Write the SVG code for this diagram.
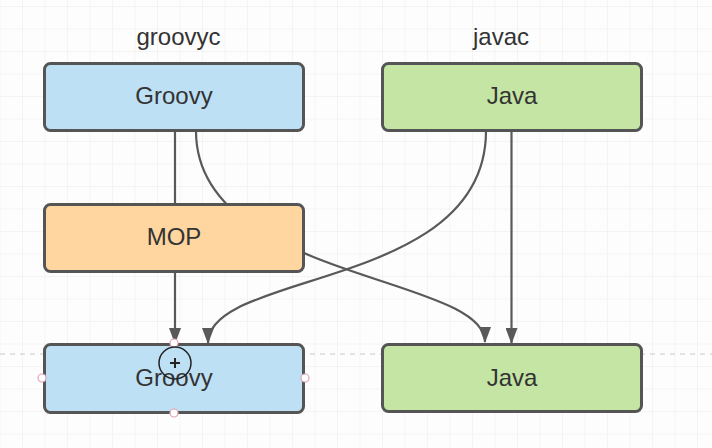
<svg xmlns="http://www.w3.org/2000/svg" width="712" height="448" viewBox="0 0 712 448">
<defs>
<pattern id="grid" x="0.5" y="7" width="22.5" height="22.5" patternUnits="userSpaceOnUse">
<path d="M22.5 0V22.5M0 22.5H22.5" fill="none" stroke="#ececec" stroke-width="1"/>
</pattern>
<marker id="arr" viewBox="0 0 16 12" refX="15" refY="6" markerWidth="16" markerHeight="12" markerUnits="userSpaceOnUse" orient="auto">
<path d="M0 0L16 6L0 12Z" fill="#595959"/>
</marker>
<style>
.node rect{stroke:#555;stroke-width:3}
.lbl{font-family:"Liberation Sans",Arial,sans-serif;font-size:24px;fill:#333;text-anchor:middle}
.blue{fill:#bee0f5}
.green{fill:#c4e5a4}
.orange{fill:#ffd69f}
.conn path{fill:none;stroke:#595959;stroke-width:2.2}
.handle{fill:#fff;stroke:#e2a2b2;stroke-width:1.2}
</style>
</defs>
<rect width="712" height="448" fill="#fdfdfd"/>
<rect width="712" height="448" fill="url(#grid)"/>
<line x1="0" y1="354" x2="712" y2="354" stroke="#c8c8c8" stroke-width="1" stroke-dasharray="5 5"/>
<text class="lbl" x="178.5" y="45">groovyc</text>
<text class="lbl" x="501" y="45">javac</text>
<g class="conn" id="connectors">
<path d="M196 131C196 280 485 275 485 342" marker-end="url(#arr)"/>
<path d="M175 131V204"/>
<path d="M175 272V343" marker-end="url(#arr)"/>
<path d="M486 131C486 290 208 270 208 343" marker-end="url(#arr)"/>
<path d="M511.5 131V343" marker-end="url(#arr)"/>
</g>
<g class="node" id="groovy-top"><rect class="blue" x="44.5" y="63.5" width="259" height="67" rx="6"/><text class="lbl" x="174" y="104">Groovy</text></g>
<g class="node" id="java-top"><rect class="green" x="382.5" y="63.5" width="259" height="67" rx="6"/><text class="lbl" x="512" y="104">Java</text></g>
<g class="node" id="mop"><rect class="orange" x="44.5" y="204.5" width="259" height="67" rx="6"/><text class="lbl" x="174" y="245">MOP</text></g>
<g class="node" id="groovy-bottom"><rect class="blue" x="44.5" y="344.5" width="259" height="68" rx="6"/><text class="lbl" x="174" y="386">Groovy</text></g>
<g class="node" id="java-bottom"><rect class="green" x="382.5" y="344.5" width="259" height="67" rx="6"/><text class="lbl" x="512" y="386">Java</text></g>
<g id="selection">
<circle class="handle" cx="174" cy="343" r="4"/>
<circle class="handle" cx="42" cy="378" r="4"/>
<circle class="handle" cx="305" cy="378" r="4"/>
<circle class="handle" cx="174" cy="413" r="4"/>
<circle cx="175" cy="363" r="16" fill="none" stroke="#222" stroke-width="1.5"/>
<path d="M175 358V368M170 363H180" stroke="#222" stroke-width="2"/>
</g>
</svg>
